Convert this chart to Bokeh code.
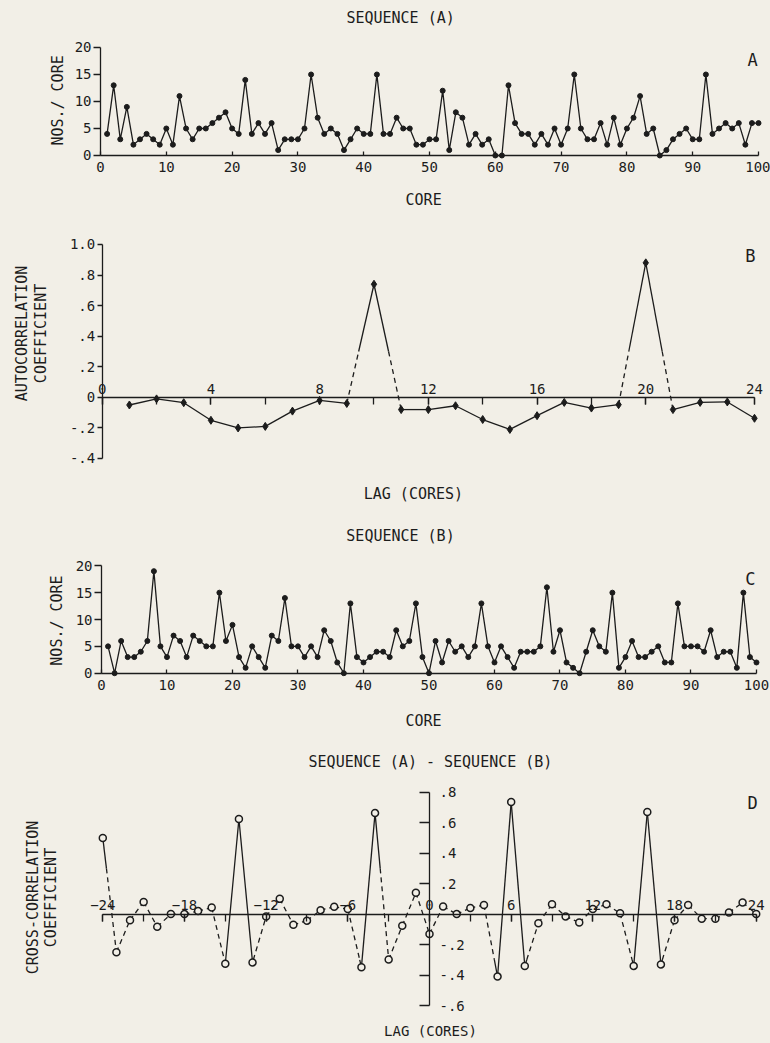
from bokeh.plotting import figure
from bokeh.models import (LinearAxis, FixedTicker, Label, Range1d,
                          CustomJSTickFormatter, Grid)
from bokeh.layouts import column
from bokeh.embed import file_html
from bokeh.resources import INLINE
import math

# ---------------- data ----------------
cores = list(range(1, 101))
seq_a = [4, 13, 3, 9, 2, 3, 4, 3, 2, 5,
         2, 11, 5, 3, 5, 5, 6, 7, 8, 5,
         4, 14, 4, 6, 4, 6, 1, 3, 3, 3,
         5, 15, 7, 4, 5, 4, 1, 3, 5, 4,
         4, 15, 4, 4, 7, 5, 5, 2, 2, 3,
         3, 12, 1, 8, 7, 2, 4, 2, 3, 0,
         0, 13, 6, 4, 4, 2, 4, 2, 5, 2,
         5, 15, 5, 3, 3, 6, 2, 7, 2, 5,
         7, 11, 4, 5, 0, 1, 3, 4, 5, 3,
         3, 15, 4, 5, 6, 5, 6, 2, 6, 6]
seq_b = [5, 0, 6, 3, 3, 4, 6, 19, 5, 3,
         7, 6, 3, 7, 6, 5, 5, 15, 6, 9,
         3, 1, 5, 3, 1, 7, 6, 14, 5, 5,
         3, 5, 3, 8, 6, 2, 0, 13, 3, 2,
         3, 4, 4, 3, 8, 5, 6, 13, 3, 0,
         6, 2, 6, 4, 5, 3, 5, 13, 5, 2,
         5, 3, 1, 4, 4, 4, 5, 16, 4, 8,
         2, 1, 0, 4, 8, 5, 4, 15, 1, 3,
         6, 3, 3, 4, 5, 2, 2, 13, 5, 5,
         5, 4, 8, 3, 4, 4, 1, 15, 3, 2]
acf_lags = list(range(1, 25))
acf_a = [-0.05, -0.01, -0.035, -0.15, -0.20, -0.19, -0.09, -0.02, -0.04, 0.74,
         -0.08, -0.08, -0.055, -0.145, -0.21, -0.12, -0.033, -0.07, -0.048, 0.88,
         -0.08, -0.033, -0.03, -0.137]
ccf_lags = list(range(-24, 25))
ccf_ab = [0.50, -0.25, -0.04, 0.08, -0.083, 0.0, 0.0, 0.02, 0.043, -0.326,
          0.624, -0.317, -0.015, 0.10, -0.07, -0.043, 0.026, 0.048, 0.033, -0.348,
          0.663, -0.298, -0.076, 0.14, -0.13, 0.05, 0.0, 0.04, 0.06, -0.41,
          0.735, -0.34, -0.06, 0.065, -0.015, -0.055, 0.033, 0.065, 0.005, -0.34,
          0.67, -0.33, -0.04, 0.06, -0.03, -0.03, 0.01, 0.076, 0.0]

core_ticks = [0, 10, 20, 30, 40, 50, 60, 70, 80, 90, 100]
count_ticks = [0, 5, 10, 15, 20]
acf_ticks = [-0.4, -0.2, 0.0, 0.2, 0.4, 0.6, 0.8, 1.0]
acf_lag_ticks = [0, 4, 8, 12, 16, 20, 24]
acf_lag_minor = list(range(0, 25, 2))
ccf_ticks = [-0.6, -0.4, -0.2, 0.2, 0.4, 0.6, 0.8]
ccf_lag_ticks = [-24, -18, -12, -6, 0, 6, 12, 18, 24]
ccf_lag_minor = list(range(-24, 25, 3))

# ---------------- style ----------------
FONT = "DejaVu Sans Mono"
BG = "#f2efe7"
INK = "#1c1c1c"
LW = 1.3
SIG = 0.3  # level beyond which segments are drawn solid

DEC_FMT = CustomJSTickFormatter(code="""
if (Math.abs(tick) < 1e-9) return "0";
let s = tick.toFixed(1);
if (s.startsWith("0.")) s = s.slice(1);
else if (s.startsWith("-0.")) s = "-" + s.slice(2);
return s;
""")


def base(height, xr, yr):
    p = figure(width=770, height=height, x_range=Range1d(*xr), y_range=Range1d(*yr),
               output_backend="svg", toolbar_location=None,
               x_axis_location=None, y_axis_location=None,
               min_border_left=0, min_border_right=0,
               min_border_top=0, min_border_bottom=0)
    for r in p.center:
        if isinstance(r, Grid):
            r.visible = False
    p.outline_line_color = None
    p.background_fill_color = BG
    p.border_fill_color = BG
    return p


def style_axis(ax):
    ax.axis_line_color = INK
    ax.axis_line_width = LW
    ax.major_tick_line_color = INK
    ax.major_tick_line_width = LW
    ax.minor_tick_line_color = INK
    ax.minor_tick_line_width = LW
    ax.major_label_text_font = FONT
    ax.major_label_text_font_size = "14px"
    ax.major_label_text_color = INK
    return ax


def txt(p, x, y, t, angle=0.0, size="15px"):
    p.add_layout(Label(x=x, y=y, text=t, angle=angle, text_align="center",
                       text_baseline="middle", text_font=FONT,
                       text_font_size=size, text_color=INK))


def split_segments(xs, ys, small_solid):
    sx, sy, dx, dy = [], [], [], []
    for i in range(len(xs) - 1):
        x0, y0, x1, y1 = xs[i], ys[i], xs[i + 1], ys[i + 1]
        b0, b1 = abs(y0) > SIG, abs(y1) > SIG
        if b0 and b1:
            sx.append([x0, x1]); sy.append([y0, y1]); continue
        if not b0 and not b1:
            if small_solid:
                sx.append([x0, x1]); sy.append([y0, y1])
            else:
                dx.append([x0, x1]); dy.append([y0, y1])
            continue
        yb = y0 if b0 else y1
        target = SIG if yb > 0 else -SIG
        t = (target - y0) / (y1 - y0)
        xm = x0 + t * (x1 - x0)
        if b0:
            sx.append([x0, xm]); sy.append([y0, target])
            dx.append([xm, x1]); dy.append([target, y1])
        else:
            dx.append([x0, xm]); dy.append([y0, target])
            sx.append([xm, x1]); sy.append([target, y1])
    return sx, sy, dx, dy


def count_panel(height, xr, yr, vals, title, tag, title_xy, core_xy, ylab_xy, tag_xy):
    p = base(height, xr, yr)
    xa = style_axis(LinearAxis(fixed_location=0, bounds=(0, 100),
                               ticker=FixedTicker(ticks=core_ticks, minor_ticks=[])))
    xa.major_tick_in = 4
    xa.major_tick_out = 0
    xa.major_label_standoff = 7
    p.add_layout(xa, "below")
    ya = style_axis(LinearAxis(fixed_location=0, bounds=(0, 20),
                               ticker=FixedTicker(ticks=count_ticks, minor_ticks=[])))
    ya.major_tick_out = 7
    ya.major_tick_in = 0
    ya.major_label_standoff = 2
    p.add_layout(ya, "left")
    p.line(cores, vals, line_color=INK, line_width=LW)
    p.scatter(cores, vals, marker="circle", size=5, color=INK)
    txt(p, *title_xy, title)
    txt(p, *core_xy, "CORE")
    txt(p, *ylab_xy, "NOS./ CORE", angle=math.pi / 2)
    txt(p, *tag_xy, tag, size="17px")
    return p


# ---------------- panel A ----------------
pA = count_panel(215, (-15.2, 101.82), (-11.11, 28.70), seq_a, "SEQUENCE (A)", "A",
                 (45.6, 25.37), (49.1, -8.33), (-6.53, 10.19), (99.1, 17.6))

# ---------------- panel B ----------------
pB = base(295, (-3.742, 24.589), (-0.7402, 1.1897))
bx = style_axis(LinearAxis(fixed_location=0, bounds=(0, 24),
                           ticker=FixedTicker(ticks=acf_lag_ticks, minor_ticks=acf_lag_minor)))
bx.major_tick_in = 7
bx.major_tick_out = 0
bx.minor_tick_in = 7
bx.minor_tick_out = 0
bx.major_label_standoff = 3
pB.add_layout(bx, "above")
by = style_axis(LinearAxis(fixed_location=0, bounds=(-0.4, 1.0),
                           ticker=FixedTicker(ticks=acf_ticks, minor_ticks=[]),
                           formatter=DEC_FMT))
by.major_tick_out = 5
by.major_tick_in = 0
by.major_label_standoff = 2
pB.add_layout(by, "left")
sx, sy, dx, dy = split_segments(acf_lags, acf_a, small_solid=True)
pB.multi_line(sx, sy, line_color=INK, line_width=LW)
pB.multi_line(dx, dy, line_color=INK, line_width=LW, line_dash="5 4")
pB.scatter(acf_lags, acf_a, marker="diamond", size=8, color=INK)
txt(pB, -2.94, 0.418, "AUTOCORRELATION", angle=math.pi / 2)
txt(pB, -2.27, 0.418, "COEFFICIENT", angle=math.pi / 2)
txt(pB, 11.45, -0.629, "LAG (CORES)")
txt(pB, 23.85, 0.928, "B", size="17px")

# ---------------- panel C ----------------
pC = count_panel(225, (-15.42, 102.14), (-11.60, 30.30), seq_b, "SEQUENCE (B)", "C",
                 (45.65, 25.64), (49.16, -8.81), (-6.72, 9.81), (99.08, 17.63))

# ---------------- panel D ----------------
pD = base(308, (-31.515, 25.05), (-0.849, 1.172))
dxa = style_axis(LinearAxis(fixed_location=0, bounds=(-24, 24),
                            ticker=FixedTicker(ticks=ccf_lag_ticks, minor_ticks=ccf_lag_minor)))
dxa.major_tick_in = 7
dxa.major_tick_out = 0
dxa.minor_tick_in = 7
dxa.minor_tick_out = 0
dxa.major_label_standoff = 4
pD.add_layout(dxa, "above")
dya = style_axis(LinearAxis(fixed_location=0, bounds=(-0.6, 0.8),
                            ticker=FixedTicker(ticks=ccf_ticks, minor_ticks=[]),
                            formatter=DEC_FMT))
dya.major_tick_in = 10
dya.major_tick_out = 0
dya.major_label_standoff = 10
pD.add_layout(dya, "right")
sx, sy, dx, dy = split_segments(ccf_lags, ccf_ab, small_solid=False)
pD.multi_line(sx, sy, line_color=INK, line_width=LW)
pD.multi_line(dx, dy, line_color=INK, line_width=LW, line_dash="5 4")
pD.scatter(ccf_lags, ccf_ab, marker="circle", size=7, fill_color=BG,
           line_color=INK, line_width=1.5)
txt(pD, 0.07, 0.995, "SEQUENCE (A) - SEQUENCE (B)")
txt(pD, 0.07, -0.765, "LAG (CORES)", size="14px")
txt(pD, -29.16, 0.109, "CROSS-CORRELATION", angle=math.pi / 2)
txt(pD, -27.84, 0.109, "COEFFICIENT", angle=math.pi / 2)
txt(pD, 23.73, 0.732, "D", size="17px")

layout = column(pA, pB, pC, pD, spacing=0, styles={"background-color": BG})
open("out.html", "w").write(file_html(layout, INLINE))
